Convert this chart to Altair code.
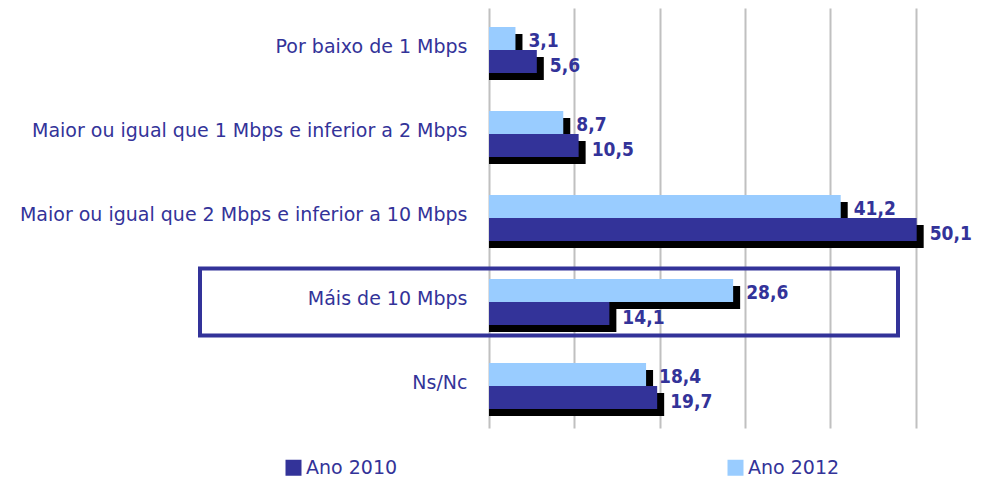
import altair as alt
import pandas as pd

categories = [
    "Por baixo de 1 Mbps",
    "Maior ou igual que 1 Mbps e inferior a 2 Mbps",
    "Maior ou igual que 2 Mbps e inferior a 10 Mbps",
    "Máis de 10 Mbps",
    "Ns/Nc",
]
v2010 = [5.6, 10.5, 50.1, 14.1, 19.7]
v2012 = [3.1, 8.7, 41.2, 28.6, 18.4]
series = ["Ano 2010", "Ano 2012"]
highlight = "Máis de 10 Mbps"
grid_values = [0, 10, 20, 30, 40, 50]

DARK = "#333399"
LIGHT = "#99CCFF"
FONT = "DejaVu Sans"

def fmt(v):
    return f"{v:.1f}".replace(".", ",")

df10 = pd.DataFrame({"cat": categories, "val": v2010, "Ano": series[0],
                     "lab": [fmt(v) for v in v2010]})
df12 = pd.DataFrame({"cat": categories, "val": v2012, "Ano": series[1],
                     "lab": [fmt(v) for v in v2012]})
dfbox = pd.DataFrame({"cat": [highlight]})

xscale = alt.Scale(domain=[0, 57.4], nice=False, zero=True)
yscale = alt.Scale(domain=categories, paddingInner=0.2, paddingOuter=0.1)

X = alt.X("val:Q", scale=xscale, stack=None,
          axis=alt.Axis(title=None, labels=False, ticks=False, domain=False,
                        grid=True, gridColor="#C0C0C0", gridWidth=2,
                        values=grid_values))
Y = alt.Y("cat:N", scale=yscale, sort=categories,
          axis=alt.Axis(title=None, domain=False, ticks=False, grid=False,
                        labelFont=FONT, labelFontSize=19, labelColor=DARK,
                        labelPadding=22, labelLimit=600, labelOffset=-3))
C = alt.Color("Ano:N", scale=alt.Scale(domain=series, range=[DARK, LIGHT]),
              legend=alt.Legend(title=None, orient="none", legendX=-205, legendY=450,
                                direction="horizontal", symbolType="square",
                                symbolSize=256, symbolStrokeWidth=0,
                                labelFont=FONT, labelFontSize=19, labelColor=DARK,
                                labelOffset=3, columnPadding=328))

H = 23
S = 7
off12 = -H / 2
off10 = H / 2

def shadow(df, off):
    return alt.Chart(df).mark_bar(color="black", height=H, xOffset=S, x2Offset=S,
                                  yOffset=off + S, y2Offset=off + S).encode(x=X, y=Y)

def bars(df, off):
    return alt.Chart(df).mark_bar(height=H, yOffset=off, y2Offset=off).encode(x=X, y=Y, color=C)

def labels(df, off):
    return alt.Chart(df).mark_text(align="left", baseline="middle", dx=13, yOffset=off,
                                   font="DejaVu Sans Condensed", fontWeight="bold",
                                   fontSize=19, color=DARK).encode(x=X, y=Y, text="lab:N")

box = alt.Chart(dfbox).mark_bar(fill="transparent", stroke=DARK, strokeWidth=4).encode(
    y=alt.Y("cat:N", scale=yscale, sort=categories),
    x=alt.value(-289), x2=alt.value(409))

chart = alt.layer(
    box,
    shadow(df12, off12), shadow(df10, off10),
    bars(df12, off12), bars(df10, off10),
    labels(df12, -9), labels(df10, 16),
).properties(
    width=490, height=420,
    autosize=alt.AutoSizeParams(type="none"),
    padding={"left": 481, "top": 0, "right": 0, "bottom": 50},
).configure_view(stroke=None)

chart.save("out.html", embed_options={"renderer": "svg", "actions": False})
